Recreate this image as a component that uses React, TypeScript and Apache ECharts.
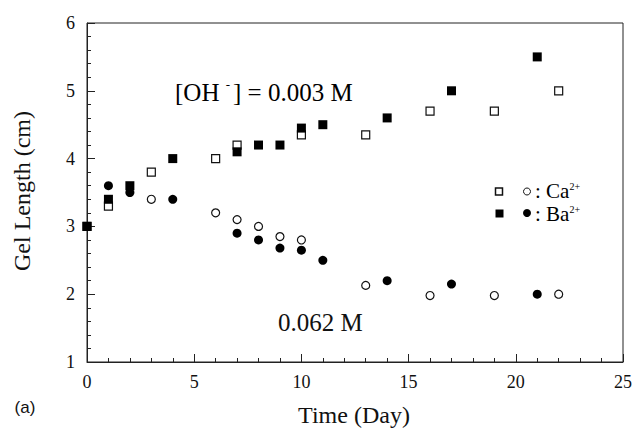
import React, { useEffect, useRef } from "react";
import * as echarts from "echarts";

// Ca2+ at [OH-] = 0.003 M (open squares)
const caSquareDays = [0, 1, 3, 6, 7, 10, 13, 16, 19, 22];
const caSquareLen = [3.0, 3.3, 3.8, 4.0, 4.2, 4.35, 4.35, 4.7, 4.7, 5.0];
// Ba2+ at [OH-] = 0.003 M (filled squares)
const baSquareDays = [0, 1, 2, 4, 7, 8, 9, 10, 11, 14, 17, 21];
const baSquareLen = [3.0, 3.4, 3.6, 4.0, 4.1, 4.2, 4.2, 4.45, 4.5, 4.6, 5.0, 5.5];
// Ca2+ at 0.062 M (open circles)
const caCircleDays = [3, 6, 7, 8, 9, 10, 13, 16, 19, 22];
const caCircleLen = [3.4, 3.2, 3.1, 3.0, 2.85, 2.8, 2.13, 1.98, 1.98, 2.0];
// Ba2+ at 0.062 M (filled circles)
const baCircleDays = [1, 2, 4, 7, 8, 9, 10, 11, 14, 17, 21];
const baCircleLen = [3.6, 3.5, 3.4, 2.9, 2.8, 2.68, 2.65, 2.5, 2.2, 2.15, 2.0];

const xTicks = [0, 5, 10, 15, 20, 25];
const yTicks = [1, 2, 3, 4, 5, 6];

const SERIF = "Liberation Serif";

function pairs(xs: number[], ys: number[]) {
  return xs.map((x, i) => [x, ys[i]]);
}

export default function App() {
  const ref = useRef<HTMLDivElement>(null);
  useEffect(() => {
    if (!ref.current) return;
    const chart = echarts.init(ref.current, null, { renderer: "svg" });
    const axisCommon = {
      axisLine: { show: true, lineStyle: { color: "#222", width: 1 } },
      axisTick: { show: true, inside: true, length: 8, lineStyle: { color: "#222" } },
      minorTick: { show: true, splitNumber: 5, length: 4, lineStyle: { color: "#222" } },
      splitLine: { show: false },
      axisLabel: { color: "#111", fontFamily: SERIF, fontSize: 18 },
    };
    const legendRich = {
      a: { fontFamily: SERIF, fontSize: 21, color: "#111", lineHeight: 20 },
      b: { fontFamily: SERIF, fontSize: 10, color: "#111", verticalAlign: "top", lineHeight: 20 },
    };
    chart.setOption({
      animation: false,
      backgroundColor: "#fff",
      grid: {
        left: 87,
        right: 13,
        top: 23,
        bottom: 68,
        show: true,
        borderColor: "#222",
        borderWidth: 1,
      },
      xAxis: {
        type: "value",
        min: xTicks[0],
        max: xTicks[xTicks.length - 1],
        interval: 5,
        ...axisCommon,
        axisLabel: { ...axisCommon.axisLabel, margin: 11 },
      },
      yAxis: {
        type: "value",
        min: yTicks[0],
        max: yTicks[yTicks.length - 1],
        interval: 1,
        ...axisCommon,
        axisLabel: { ...axisCommon.axisLabel, margin: 12 },
      },
      series: [
        {
          type: "scatter",
          name: "Ca 0.003",
          symbol: "rect",
          symbolSize: 8,
          itemStyle: { color: "#fff", borderColor: "#111", borderWidth: 1.2, opacity: 1 },
          data: pairs(caSquareDays, caSquareLen),
          z: 2,
        },
        {
          type: "scatter",
          name: "Ca 0.062",
          symbol: "circle",
          symbolSize: 8,
          itemStyle: { color: "#fff", borderColor: "#111", borderWidth: 1.2, opacity: 1 },
          data: pairs(caCircleDays, caCircleLen),
          z: 2,
        },
        {
          type: "scatter",
          name: "Ba 0.003",
          symbol: "rect",
          symbolSize: 9,
          itemStyle: { color: "#000", opacity: 1 },
          data: pairs(baSquareDays, baSquareLen),
          z: 3,
        },
        {
          type: "scatter",
          name: "Ba 0.062",
          symbol: "circle",
          symbolSize: 9,
          itemStyle: { color: "#000", opacity: 1 },
          data: pairs(baCircleDays, baCircleLen),
          z: 3,
        },
      ],
      graphic: [
        {
          type: "text",
          x: 22,
          y: 191,
          rotation: Math.PI / 2,
          style: {
            text: "Gel Length (cm)",
            font: `24px "${SERIF}"`,
            fill: "#111",
            textAlign: "center",
            textVerticalAlign: "middle",
          },
        },
        {
          type: "text",
          x: 354,
          y: 415,
          style: {
            text: "Time (Day)",
            font: `24px "${SERIF}"`,
            fill: "#111",
            textAlign: "center",
            textVerticalAlign: "middle",
          },
        },
        {
          type: "text",
          x: 25,
          y: 407,
          style: {
            text: "(a)",
            font: `17px "Liberation Sans"`,
            fill: "#111",
            textAlign: "center",
            textVerticalAlign: "middle",
          },
        },
        {
          type: "text",
          x: 175,
          y: 92,
          style: {
            text: "{a|[OH }{b|-}{a|] = 0.003 M}",
            textAlign: "left",
            textVerticalAlign: "middle",
            rich: {
              a: { fontFamily: SERIF, fontSize: 25, color: "#111", lineHeight: 28 },
              b: { fontFamily: SERIF, fontSize: 13, color: "#111", verticalAlign: "top", lineHeight: 28, padding: [0, 3, 0, 0] },
            },
          },
        },
        {
          type: "text",
          x: 278,
          y: 322,
          style: {
            text: "0.062 M",
            font: `25px "${SERIF}"`,
            fill: "#111",
            textAlign: "left",
            textVerticalAlign: "middle",
          },
        },
        // legend row 1
        {
          type: "rect",
          shape: { x: 495.5, y: 188, width: 7, height: 7 },
          style: { fill: "#fff", stroke: "#111", lineWidth: 1.5 },
        },
        {
          type: "circle",
          shape: { cx: 527, cy: 191.5, r: 3.5 },
          style: { fill: "#fff", stroke: "#111", lineWidth: 1 },
        },
        {
          type: "text",
          x: 535,
          y: 191,
          style: { text: "{a|: Ca}{b|2+}", textAlign: "left", textVerticalAlign: "middle", rich: legendRich },
        },
        // legend row 2
        {
          type: "rect",
          shape: { x: 495.5, y: 209.5, width: 8, height: 8 },
          style: { fill: "#000" },
        },
        {
          type: "circle",
          shape: { cx: 527, cy: 213, r: 4 },
          style: { fill: "#000" },
        },
        {
          type: "text",
          x: 535,
          y: 214,
          style: { text: "{a|: Ba}{b|2+}", textAlign: "left", textVerticalAlign: "middle", rich: legendRich },
        },
      ],
    });
    return () => chart.dispose();
  }, []);
  return (
    <div
      ref={ref}
      style={{ position: "fixed", left: 0, top: 0, width: 636, height: 430 }}
    />
  );
}
